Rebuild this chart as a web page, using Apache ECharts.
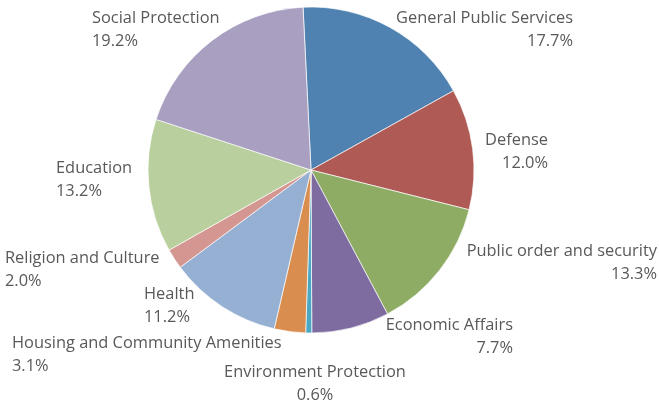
<!DOCTYPE html>
<html>
<head>
<meta charset="utf-8">
<script src="https://cdn.jsdelivr.net/npm/echarts@6/dist/echarts.min.js"></script>
<style>
  html, body { margin: 0; padding: 0; background: #ffffff; }
  #chart { width: 659px; height: 405px; }
</style>
</head>
<body>
<div id="chart"></div>
<script>
// Government expenditure by function (share of total, %)
const categories = [
  'General Public Services',
  'Defense',
  'Public order and security',
  'Economic Affairs',
  'Environment Protection',
  'Housing and Community Amenities',
  'Health',
  'Religion and Culture',
  'Education',
  'Social Protection'
];
const shares = [17.7, 12.0, 13.3, 7.7, 0.6, 3.1, 11.2, 2.0, 13.2, 19.2];

const sliceColors = [
  '#4f82b1', '#b05a56', '#8fac65', '#7e6b9f', '#4ba8c3',
  '#d98d4f', '#95b0d2', '#d39691', '#b9cf9e', '#a9a0c1'
];

// Where each label block sits: [x, y, text alignment]
const labelSpots = [
  [573, 30, 'right'],
  [548, 152, 'right'],
  [657, 263, 'right'],
  [513, 337, 'right'],
  [315, 384, 'center'],
  [12, 355, 'left'],
  [144, 306, 'left'],
  [5, 270, 'left'],
  [56, 180, 'left'],
  [92, 30, 'left']
];

const chart = echarts.init(document.getElementById('chart'), null, { renderer: 'canvas' });

chart.setOption({
  animation: false,
  backgroundColor: '#ffffff',
  series: [{
    type: 'pie',
    center: [311, 170],
    radius: 163,
    startAngle: 92.8,
    clockwise: true,
    avoidLabelOverlap: false,
    data: categories.map((name, i) => ({
      name: name,
      value: shares[i],
      itemStyle: { color: sliceColors[i] },
      label: { align: labelSpots[i][2] }
    })),
    itemStyle: {
      borderColor: 'rgba(255,255,255,0.85)',
      borderWidth: 0.8
    },
    label: {
      show: true,
      position: 'outside',
      formatter: p => p.name + '\n' + p.value.toFixed(1) + '%',
      fontFamily: '"Open Sans", sans-serif',
      fontSize: 16.4,
      lineHeight: 23,
      color: '#595959'
    },
    labelLine: { show: false },
    labelLayout: function (params) {
      const spot = labelSpots[params.dataIndex];
      return {
        x: spot[0],
        y: spot[1],
        align: spot[2],
        verticalAlign: 'middle'
      };
    },
    emphasis: { disabled: true }
  }]
});
</script>
</body>
</html>
